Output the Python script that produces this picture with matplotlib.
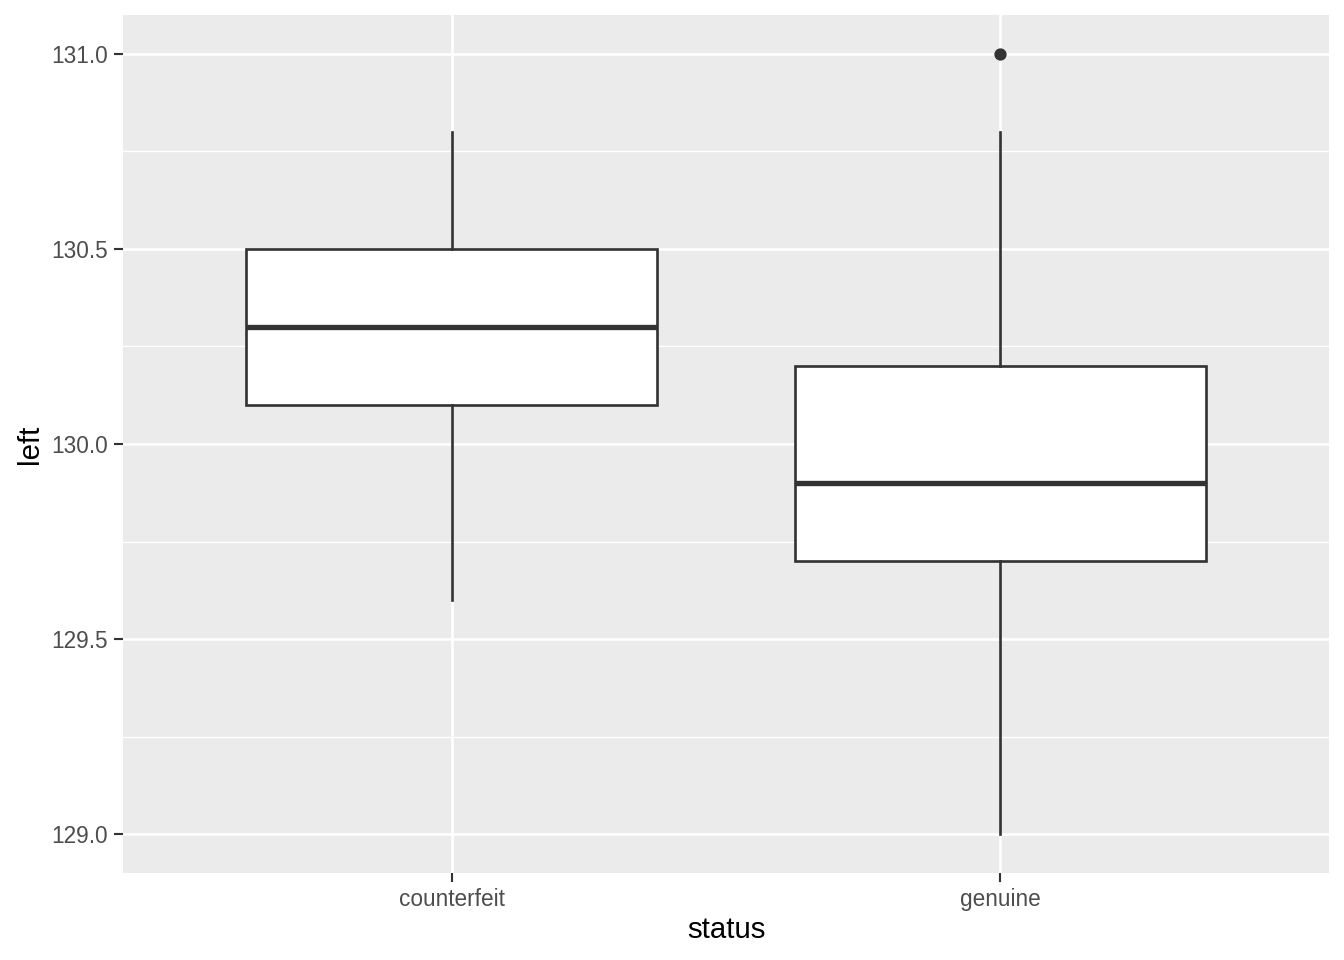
import matplotlib
matplotlib.use("Agg")
import matplotlib.pyplot as plt
from matplotlib.ticker import MultipleLocator

plt.rcParams["font.family"] = ["Liberation Sans", "DejaVu Sans"]

statuses = ["counterfeit", "genuine"]
whisker_low = [129.6, 129.0]
q1 = [130.1, 129.7]
medians = [130.3, 129.9]
q3 = [130.5, 130.2]
whisker_high = [130.8, 130.8]
outliers = [[], [131.0]]

W, H, DPI = 1344, 960, 192
fig = plt.figure(figsize=(W / DPI, H / DPI), dpi=DPI)
ax = fig.add_axes([123 / W, (H - 873) / H, (1329 - 123) / W, (873 - 15) / H])
ax.set_facecolor("#EBEBEB")

stats = []
for i, name in enumerate(statuses):
    stats.append(dict(label=name, whislo=whisker_low[i], q1=q1[i], med=medians[i],
                      q3=q3[i], whishi=whisker_high[i], fliers=outliers[i]))

dark = "#333333"
ax.bxp(stats, positions=[1, 2], widths=0.75, showcaps=False, patch_artist=True,
       boxprops=dict(facecolor="white", edgecolor=dark, linewidth=1.0),
       whiskerprops=dict(color=dark, linewidth=1.0),
       medianprops=dict(color=dark, linewidth=2.0, solid_capstyle="butt"),
       flierprops=dict(marker="o", markerfacecolor=dark, markeredgecolor=dark,
                       markersize=3.6), zorder=3)

ax.set_xlim(0.4, 2.6)
ax.set_ylim(128.9, 131.1)
ax.yaxis.set_minor_locator(MultipleLocator(0.25))
ax.set_yticks([129.0, 129.5, 130.0, 130.5, 131.0])
ax.set_yticklabels(["129.0", "129.5", "130.0", "130.5", "131.0"])
ax.set_xticks([1, 2])
ax.set_xticklabels(statuses)

ax.grid(True, which="major", color="white", linewidth=1.0, zorder=0)
ax.grid(True, which="minor", axis="y", color="white", linewidth=0.5, zorder=0)
ax.set_axisbelow(True)
for s in ax.spines.values():
    s.set_visible(False)

ax.tick_params(which="major", length=3.5, width=0.8, color=dark,
               labelcolor="#4D4D4D", labelsize=8.5, pad=2)
ax.tick_params(which="minor", length=0)

ax.set_xlabel("status", fontsize=11, labelpad=2)
ax.set_ylabel("left", fontsize=11, labelpad=3)

fig.savefig("out.png", dpi=DPI)
